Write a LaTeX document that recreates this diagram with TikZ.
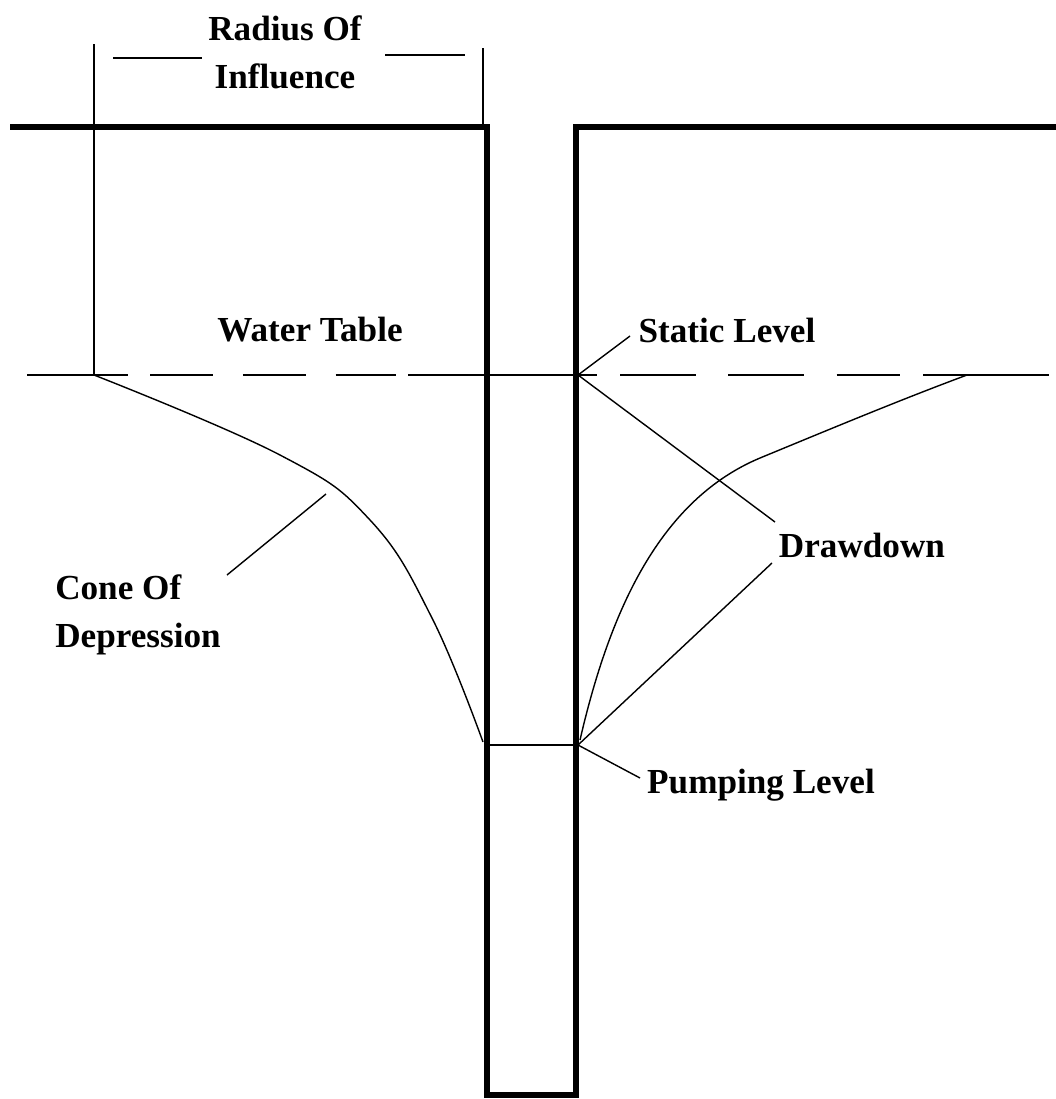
\documentclass[tikz,border=0pt]{standalone}
\usepackage{fontspec}
\setmainfont{Liberation Serif}
\usetikzlibrary{positioning}

\begin{document}
\begin{tikzpicture}[
    x=0.025cm, y=-0.025cm,
    font=\fontsize{25}{34}\selectfont\bfseries,
    wall/.style={line width=3.8pt, line join=miter},
    leader/.style={line width=1pt},
    cone/.style={line width=1pt, smooth, tension=0.7},
    lbl/.style={inner sep=0pt, align=center}
]
\useasboundingbox (0,0) rectangle (1056,1099);

% ground and well casing
\draw[wall] (10,127) -- (487,127) -- (487,1095) -- (576,1095) -- (576,127) -- (1056,127);

% points
\coordinate (roiL) at (94,375);
\coordinate (roiR) at (967,375);
\coordinate (stat) at (578,375);
\coordinate (pumpL) at (487,745);
\coordinate (pumpR) at (578,745);

% water table
\draw[leader] (27,375) -- (128,375);
\draw[leader, dash pattern=on 45 off 21] (150,375) -- (396,375);
\draw[leader] (408,375) -- (597,375);
\draw[leader, dash pattern=on 54 off 23] (620,375) -- (900,375);
\draw[leader] (923,375) -- (1049,375);

% pumping level
\draw[leader] (pumpL) -- (pumpR);

% cone of depression
\draw[cone] plot coordinates {(roiL) (280,455) (370,520) (432,618) (483,742)};
\draw[cone] (580,740) .. controls (610,610) and (660,500) .. (760,458)
    .. controls (840,425) and (900,400) .. (roiR);

% labels
\node[lbl] (radius) at (285,52) {Radius Of\\Influence};
\node[lbl] (wtable) at (310,330) {Water Table};
\node[lbl] (static) at (727,330) {Static Level};
\node[lbl, align=left, anchor=west] (cone) at (55,615) {Cone Of\\Depression};
\node[lbl] (drawdown) at (862,545) {Drawdown};
\node[lbl] (pumping) at (761,785) {Pumping Level};

% radius of influence
\coordinate (rTopL) at (94,44);
\coordinate (rTopR) at (483,48);
\coordinate (rGnd) at (483,127);
\draw[leader] (rTopL) -- (roiL);
\draw[leader] (rTopR) -- (rGnd);
\draw[leader] (113,58) -- (202,58);
\draw[leader] (385,55) -- (465,55);

% leaders
\coordinate (statEnd) at (630,336);
\coordinate (coneOn) at (326,494);
\coordinate (coneEnd) at (227,575);
\coordinate (ddUp) at (775,522);
\coordinate (ddLow) at (772,563);
\coordinate (pumpEnd) at (640,778);
\draw[leader] (stat) -- (statEnd);
\draw[leader] (coneOn) -- (coneEnd);
\draw[leader] (stat) -- (ddUp);
\draw[leader] (pumpR) -- (ddLow);
\draw[leader] (pumpR) -- (pumpEnd);
\end{tikzpicture}
\end{document}
